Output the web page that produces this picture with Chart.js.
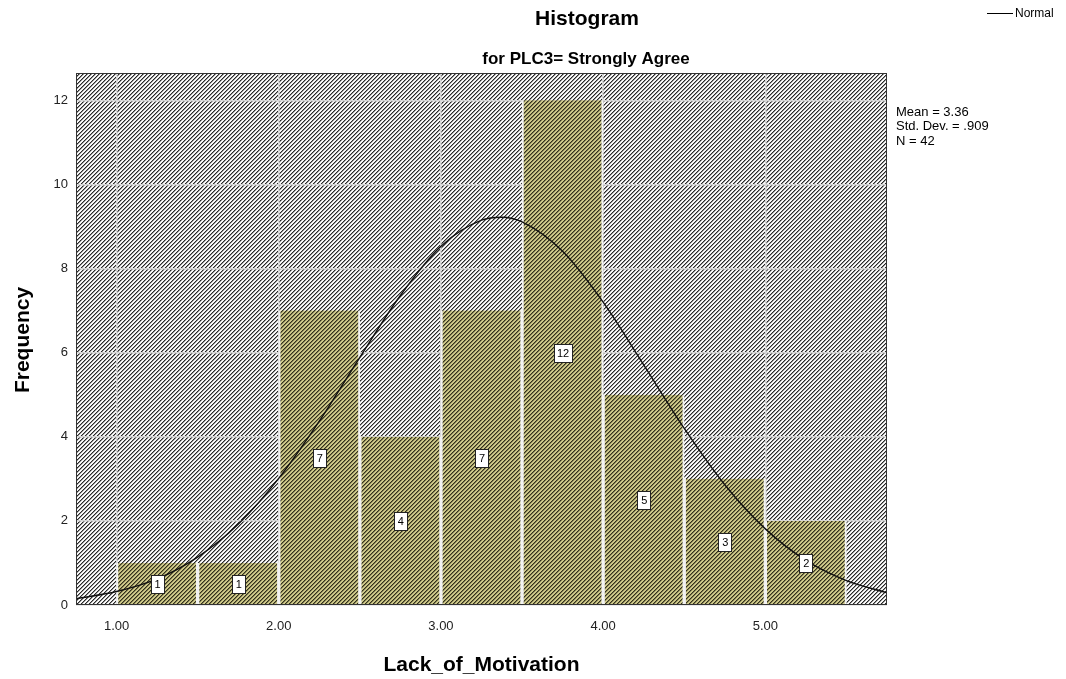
<!DOCTYPE html>
<html>
<head>
<meta charset="utf-8">
<script src="https://cdn.jsdelivr.net/npm/chart.js@4/dist/chart.umd.min.js"></script>
<style>
  html, body { margin: 0; padding: 0; background: #ffffff; }
  canvas { display: block; }
</style>
</head>
<body>
<canvas id="c" width="1066" height="679"></canvas>
<script>
// ---- data ----
const binCenters = [1.25, 1.75, 2.25, 2.75, 3.25, 3.75, 4.25, 4.75, 5.25];
const frequencies = [1, 1, 7, 4, 7, 12, 5, 3, 2];
const normalX = [0.75, 1.0, 1.25, 1.5, 1.75, 2.0, 2.25, 2.5, 2.75, 3.0, 3.25, 3.375, 3.5, 3.75, 4.0, 4.25, 4.5, 4.75, 5.0, 5.25, 5.5, 5.75];
const normalY = [0.15, 0.32, 0.62, 1.14, 1.92, 3.01, 4.37, 5.89, 7.36, 8.53, 9.15, 9.22, 9.11, 8.41, 7.20, 5.71, 4.20, 2.86, 1.81, 1.06, 0.58, 0.29];
const xTicks = [1, 2, 3, 4, 5];
const yTicks = [0, 2, 4, 6, 8, 10, 12];
const titleText = "Histogram";
const subtitleText = "for PLC3= Strongly Agree";
const xTitle = "Lack_of_Motivation";
const yTitle = "Frequency";
const legendText = "Normal";
const statsLines = ["Mean = 3.36", "Std. Dev. = .909", "N = 42"];

// ---- hatch patterns ----
function makeHatch(colors) {
  const n = 4;
  const cv = document.createElement('canvas');
  cv.width = n; cv.height = n;
  const cx = cv.getContext('2d');
  const img = cx.createImageData(n, n);
  for (let y = 0; y < n; y++) {
    for (let x = 0; x < n; x++) {
      const k = (x + y) % n;
      const c = colors[k];
      const i = (y * n + x) * 4;
      img.data[i] = c[0]; img.data[i + 1] = c[1]; img.data[i + 2] = c[2]; img.data[i + 3] = 255;
    }
  }
  cx.putImageData(img, 0, 0);
  return cx.createPattern(cv, 'repeat');
}
const bgHatch = makeHatch([[40, 40, 40], [150, 150, 150], [255, 255, 255], [240, 240, 240]]);
const barHatch = makeHatch([[50, 48, 28], [128, 124, 80], [208, 203, 140], [200, 195, 134]]);

const FONT = "'Liberation Sans', Arial, sans-serif";

const decor = {
  id: 'decor',
  beforeDraw(chart) {
    const { ctx, chartArea: a } = chart;
    ctx.save();
    ctx.fillStyle = bgHatch;
    ctx.fillRect(a.left, a.top, a.right - a.left, a.bottom - a.top);
    ctx.restore();
  },
  afterDatasetsDraw(chart) {
    const { ctx, chartArea: a, scales } = chart;
    ctx.save();
    // value boxes
    ctx.font = "11px " + FONT;
    ctx.textAlign = 'center';
    ctx.textBaseline = 'middle';
    for (let i = 0; i < binCenters.length; i++) {
      const px = scales.x.getPixelForValue(binCenters[i]);
      const py = scales.y.getPixelForValue(frequencies[i] / 2);
      const label = String(frequencies[i]);
      const w = label.length > 1 ? 18 : 13;
      const h = 18;
      const bx = Math.round(px - w / 2) + 0.5, by = Math.round(py - h / 2) + 0.5;
      ctx.fillStyle = '#ffffff';
      ctx.fillRect(bx, by, w, h);
      ctx.strokeStyle = '#222222';
      ctx.lineWidth = 1;
      ctx.strokeRect(bx, by, w, h);
      ctx.fillStyle = '#000000';
      ctx.fillText(label, px + 0.5, py + 1);
    }
    // frame
    ctx.strokeStyle = '#333333';
    ctx.lineWidth = 1;
    ctx.strokeRect(a.left + 0.5, a.top + 0.5, a.right - a.left - 1, a.bottom - a.top - 1);
    ctx.restore();
  },
  afterDraw(chart) {
    const { ctx, chartArea: a } = chart;
    ctx.save();
    ctx.fillStyle = '#000000';
    ctx.textAlign = 'center';
    ctx.textBaseline = 'alphabetic';
    ctx.font = "bold 21px " + FONT;
    ctx.fillText(titleText, 587, 25);
    ctx.font = "bold 17px " + FONT;
    ctx.fillText(subtitleText, 586, 64);
    ctx.font = "bold 21px " + FONT;
    ctx.fillText(xTitle, (a.left + a.right) / 2, 671);
    ctx.save();
    ctx.translate(29, 340);
    ctx.rotate(-Math.PI / 2);
    ctx.fillText(yTitle, 0, 0);
    ctx.restore();
    // legend
    ctx.strokeStyle = '#000000';
    ctx.lineWidth = 1;
    ctx.beginPath();
    ctx.moveTo(987, 13.5);
    ctx.lineTo(1013, 13.5);
    ctx.stroke();
    ctx.font = "12px " + FONT;
    ctx.textAlign = 'left';
    ctx.textBaseline = 'middle';
    ctx.fillText(legendText, 1015, 14);
    // stats
    ctx.font = "13px " + FONT;
    ctx.textBaseline = 'middle';
    statsLines.forEach((s, i) => ctx.fillText(s, 896, 112 + i * 14.5));
    ctx.restore();
  }
};

const ctx = document.getElementById('c').getContext('2d');
new Chart(ctx, {
  type: 'bar',
  data: {
    datasets: [
      {
        type: 'line',
        label: legendText,
        data: normalX.map((x, i) => ({ x: x, y: normalY[i] })),
        borderColor: '#111111',
        borderWidth: 1.4,
        pointRadius: 0,
        cubicInterpolationMode: 'monotone',
        fill: false,
        order: 0
      },
      {
        type: 'bar',
        label: 'Frequency',
        data: binCenters.map((x, i) => ({ x: x, y: frequencies[i] })),
        backgroundColor: barHatch,
        borderColor: '#f2f2f2',
        borderWidth: { left: 2, right: 2, top: 0, bottom: 0 },
        borderSkipped: false,
        barPercentage: 1,
        categoryPercentage: 1,
        order: 1
      }
    ]
  },
  options: {
    responsive: false,
    animation: false,
    devicePixelRatio: 1,
    layout: { padding: { left: 0, top: 73, right: 179, bottom: 0 } },
    plugins: { legend: { display: false }, tooltip: { enabled: false }, title: { display: false } },
    scales: {
      x: {
        type: 'linear',
        offset: false,
        min: 0.75,
        max: 5.75,
        afterFit(s) { s.height = 74; },
        afterBuildTicks(s) { s.ticks = xTicks.map(v => ({ value: v })); },
        ticks: {
          callback: v => Number(v).toFixed(2),
          font: { family: FONT, size: 13 },
          color: '#222222',
          padding: 14,
          maxRotation: 0
        },
        grid: { color: '#d6d6d6', lineWidth: 1.5, drawTicks: false, offset: false },
        border: { display: false }
      },
      y: {
        type: 'linear',
        min: 0,
        max: 12.65,
        afterFit(s) { s.width = 76; },
        afterBuildTicks(s) { s.ticks = yTicks.map(v => ({ value: v })); },
        ticks: {
          font: { family: FONT, size: 13 },
          color: '#222222',
          padding: 8
        },
        grid: { color: '#d6d6d6', lineWidth: 1.5, drawTicks: false },
        border: { display: false }
      }
    }
  },
  plugins: [decor]
});
</script>
</body>
</html>
